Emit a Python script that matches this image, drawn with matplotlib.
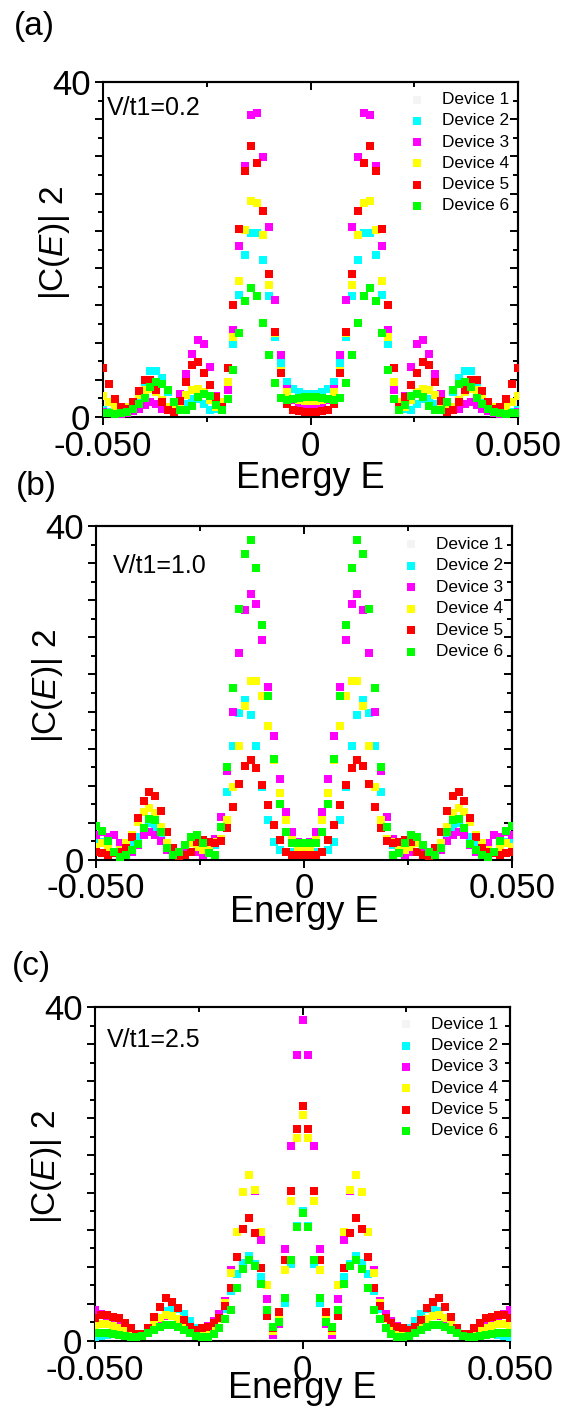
import numpy as np
import matplotlib
matplotlib.use("Agg")
import matplotlib.pyplot as plt
from matplotlib.transforms import ScaledTranslation

plt.rcParams['font.family'] = ['Liberation Sans', 'DejaVu Sans']
plt.rcParams['mathtext.fontset'] = 'custom'
plt.rcParams['mathtext.rm'] = 'Liberation Sans'
plt.rcParams['mathtext.it'] = 'Liberation Sans:italic'

# ---------------- data ----------------
energy = np.linspace(-0.05, 0.05, 71)

device_names = ["Device 1", "Device 2", "Device 3", "Device 4", "Device 5", "Device 6"]
device_colors = ["#f4f4f4", "#00ffff", "#ff00ff", "#ffff00", "#ff0000", "#00ff00"]
panel_tags = ["(a)", "(b)", "(c)"]
panel_notes = ["V/t1=0.2", "V/t1=1.0", "V/t1=2.5"]

x_major = [-0.05, 0.0, 0.05]
x_minor = [-0.025, 0.025]
x_ticklabels = ["-0.050", "0", "0.050"]
y_top = 40
y_labels_shown = {0: "0", 9: "40"}

# Device 1 is drawn in near-white and is not visible in the picture
a_dev1 = []
a_dev2 = [0.8,0.6,0.5,0.7,1.0,1.5,2.5,4.0,5.5,5.5,4.6,3.0,1.5,1.0,1.6,2.2,2.2,1.6,0.8,1.0,1.5,3.5,8.7,14.6,19.4,22.0,22.0,18.7,14.4,9.6,6.4,4.2,3.4,3.0,2.8,2.8,
          2.8,3.0,3.4,4.2,6.4,9.6,14.4,18.7,22.0,22.0,19.4,14.6,8.7,3.5,1.5,1.0,0.8,1.6,2.2,2.2,1.6,1.0,1.5,3.0,4.6,5.5,5.5,4.0,2.5,1.5,1.0,0.7,0.5,0.6,0.8]
a_dev3 = [0.6,0.5,0.4,0.4,0.5,0.7,1.0,1.4,1.8,1.5,1.0,1.2,1.8,2.8,5.1,7.5,9.2,8.7,6.0,2.5,1.5,3.2,10.4,20.4,30.0,36.1,36.3,31.0,22.7,14.0,7.4,3.4,2.0,1.4,1.2,1.2,
          1.2,1.4,2.0,3.4,7.4,14.0,22.7,31.0,36.3,36.1,30.0,20.4,10.4,3.2,1.5,2.5,6.0,8.7,9.2,7.5,5.1,2.8,1.8,1.2,1.0,1.5,1.8,1.4,1.0,0.7,0.5,0.4,0.4,0.5,0.6]
a_dev4 = [2.5,1.8,1.2,1.0,1.2,1.8,2.6,3.2,3.4,3.0,2.0,1.2,1.0,1.6,2.6,3.2,3.4,3.0,2.0,1.2,1.8,4.2,9.5,16.2,22.3,25.8,25.5,21.7,15.8,10.0,5.5,3.0,2.2,2.0,1.9,1.9,
          1.9,2.0,2.2,3.0,5.5,10.0,15.8,21.7,25.5,25.8,22.3,16.2,9.5,4.2,1.8,1.2,2.0,3.0,3.4,3.2,2.6,1.6,1.0,1.2,2.0,3.0,3.4,3.2,2.6,1.8,1.2,1.0,1.2,1.8,2.5]
a_dev5 = [5.8,4.0,2.2,1.2,1.0,1.8,3.1,4.4,4.4,3.2,1.8,0.8,0.6,1.9,4.2,6.2,6.6,5.2,3.8,2.4,1.2,5.8,13.4,22.5,29.4,32.3,30.3,24.6,17.1,10.2,5.2,1.5,0.8,0.7,0.6,0.6,
          0.6,0.7,0.8,1.5,5.2,10.2,17.1,24.6,30.3,32.3,29.4,22.5,13.4,5.8,1.2,2.4,3.8,5.2,6.6,6.2,4.2,1.9,0.6,0.8,1.8,3.2,4.4,4.4,3.1,1.8,1.0,1.2,2.2,4.0,5.8]
a_dev6 = [0.5,0.5,0.4,0.5,0.6,1.0,1.6,2.3,3.6,4.2,4.0,3.2,1.8,0.8,0.8,1.3,2.4,2.8,2.5,1.4,0.8,2.2,5.6,10.0,13.8,15.4,14.4,11.2,7.4,4.1,2.3,2.0,2.2,2.3,2.4,2.4,
          2.4,2.3,2.2,2.0,2.3,4.1,7.4,11.2,14.4,15.4,13.8,10.0,5.6,2.2,0.8,1.4,2.5,2.8,2.4,1.3,0.8,0.8,1.8,3.2,4.0,4.2,3.6,2.3,1.6,1.0,0.6,0.5,0.4,0.5,0.5]

b_dev1 = []
b_dev2 = [2.0,2.2,1.5,0.8,0.6,1.0,1.8,2.8,3.8,4.4,4.0,2.8,1.4,0.6,0.8,1.6,2.0,1.6,0.8,0.8,1.8,4.0,8.2,13.6,17.6,19.2,17.4,13.6,8.8,4.8,2.2,1.2,1.0,1.0,1.0,1.0,
          1.0,1.0,1.0,1.2,2.2,4.8,8.8,13.6,17.4,19.2,17.6,13.6,8.2,4.0,1.8,0.8,0.8,1.6,2.0,1.6,0.8,0.6,1.4,2.8,4.0,4.4,3.8,2.8,1.8,1.0,0.6,0.8,1.5,2.2,2.0]
b_dev3 = [3.0,3.4,2.8,3.0,2.0,1.2,1.0,1.8,3.0,3.4,3.0,2.3,1.2,0.8,0.8,1.6,2.0,1.0,0.6,1.2,2.5,5.2,10.7,17.7,24.8,29.9,31.9,30.6,26.4,20.7,14.8,9.7,5.8,3.4,2.2,2.0,
          2.2,3.4,5.8,9.7,14.8,20.7,26.4,30.6,31.9,29.9,24.8,17.7,10.7,5.2,2.5,1.2,0.6,1.0,2.0,1.6,0.8,0.8,1.2,2.3,3.0,3.4,3.0,1.8,1.0,1.2,2.0,3.0,2.8,3.4,3.0]
b_dev4 = [1.5,2.0,1.5,1.0,1.2,2.0,3.0,4.5,5.8,6.2,5.6,4.0,2.0,1.0,1.0,1.8,2.0,1.6,1.2,1.5,2.2,2.5,4.8,8.8,13.6,18.4,21.4,21.4,19.6,16.0,12.0,8.0,4.8,2.4,1.4,1.2,
          1.4,2.4,4.8,8.0,12.0,16.0,19.6,21.4,21.4,18.4,13.6,8.8,4.8,2.5,2.2,1.5,1.2,1.6,2.0,1.8,1.0,1.0,2.0,4.0,5.6,6.2,5.8,4.5,3.0,2.0,1.2,1.0,1.5,2.0,1.5]
b_dev5 = [1.0,0.8,0.6,0.8,1.0,1.4,2.8,5.0,7.1,8.2,7.7,5.9,3.4,1.4,0.5,0.6,1.0,2.2,2.4,2.2,2.0,2.3,3.8,6.4,9.1,11.2,12.0,11.0,9.0,6.6,4.2,2.4,1.0,0.6,0.6,0.6,
          0.6,0.6,1.0,2.4,4.2,6.6,9.0,11.0,12.0,11.2,9.1,6.4,3.8,2.3,2.0,2.2,2.4,2.2,1.0,0.6,0.5,1.4,3.4,5.9,7.7,8.2,7.1,5.0,2.8,1.4,1.0,0.8,0.6,0.8,1.0]
b_dev6 = [4.1,3.5,2.3,1.0,0.4,0.6,1.2,1.9,3.8,4.9,4.8,3.3,1.4,0.6,1.0,1.8,2.8,3.0,2.0,0.8,0.6,4.0,11.1,20.6,30.1,36.6,38.3,35.0,28.1,19.6,12.1,6.7,3.3,2.0,2.0,2.0,
          2.0,2.0,3.3,6.7,12.1,19.6,28.1,35.0,38.3,36.6,30.1,20.6,11.1,4.0,0.6,0.8,2.0,3.0,2.8,1.8,1.0,0.6,1.4,3.3,4.8,4.9,3.8,1.9,1.2,0.6,0.4,1.0,2.3,3.5,4.1]

c_dev1 = []
c_dev2 = [0.5,0.6,0.7,0.8,0.8,0.7,0.6,0.5,0.6,1.0,1.8,2.8,3.6,4.0,3.8,3.2,2.4,1.6,1.2,1.3,1.8,2.6,3.8,6.0,8.0,9.4,10.2,9.2,7.7,3.2,1.3,2.6,4.5,9.2,13.8,15.6,
          13.8,9.2,4.5,2.6,1.3,3.2,7.7,9.2,10.2,9.4,8.0,6.0,3.8,2.6,1.8,1.3,1.2,1.6,2.4,3.2,3.8,4.0,3.6,2.8,1.8,1.0,0.6,0.5,0.6,0.7,0.8,0.8,0.7,0.6,0.5]
c_dev3 = [3.7,3.2,2.8,2.4,2.0,1.5,1.0,0.6,0.6,1.0,1.8,2.6,3.0,3.0,2.6,1.9,1.4,1.2,1.4,1.8,2.4,3.2,4.8,8.5,13.1,17.8,19.9,18.0,12.1,5.0,0.7,2.0,11.0,23.4,34.3,38.5,
          34.3,23.4,11.0,2.0,0.7,5.0,12.1,18.0,19.9,17.8,13.1,8.5,4.8,3.2,2.4,1.8,1.4,1.2,1.4,1.9,2.6,3.0,3.0,2.6,1.8,1.0,0.6,0.6,1.0,1.5,2.0,2.4,2.8,3.2,3.7]
c_dev4 = [1.8,2.0,2.0,1.8,1.6,1.2,0.8,0.5,0.6,1.2,2.0,2.8,3.1,3.0,2.6,1.8,1.2,0.8,1.0,1.2,1.6,2.6,4.5,8.2,13.0,17.8,19.9,18.1,13.0,6.7,1.2,2.9,8.5,16.8,24.3,27.1,
          24.3,16.8,8.5,2.9,1.2,6.7,13.0,18.1,19.9,17.8,13.0,8.2,4.5,2.6,1.6,1.2,1.0,0.8,1.2,1.8,2.6,3.0,3.1,2.8,2.0,1.2,0.6,0.5,0.8,1.2,1.6,1.8,2.0,2.0,1.8]
c_dev5 = [2.7,3.1,3.1,2.9,2.7,2.1,1.5,0.8,0.8,1.5,2.9,4.1,5.1,4.7,3.9,2.5,1.7,1.3,1.5,1.7,2.1,2.8,4.2,6.3,10.1,13.4,14.7,12.9,8.7,3.0,1.5,3.5,9.7,18.0,25.4,28.1,
          25.4,18.0,9.7,3.5,1.5,3.0,8.7,12.9,14.7,13.4,10.1,6.3,4.2,2.8,2.1,1.7,1.5,1.3,1.7,2.5,3.9,4.7,5.1,4.1,2.9,1.5,0.8,0.8,1.5,2.1,2.7,2.9,3.1,3.1,2.7]
c_dev6 = [1.0,1.0,0.9,0.8,0.7,0.6,0.5,0.5,0.6,0.9,1.3,1.7,1.9,1.9,1.7,1.3,0.9,0.6,0.5,0.5,0.8,1.5,2.6,3.7,6.3,8.6,9.7,9.0,6.8,3.7,1.7,2.3,5.1,9.7,13.6,15.3,
          13.6,9.7,5.1,2.3,1.7,3.7,6.8,9.0,9.7,8.6,6.3,3.7,2.6,1.5,0.8,0.5,0.5,0.6,0.9,1.3,1.7,1.9,1.9,1.7,1.3,0.9,0.6,0.5,0.5,0.6,0.7,0.8,0.9,1.0,1.0]

panels_data = [
    [a_dev1, a_dev2, a_dev3, a_dev4, a_dev5, a_dev6],
    [b_dev1, b_dev2, b_dev3, b_dev4, b_dev5, b_dev6],
    [c_dev1, c_dev2, c_dev3, c_dev4, c_dev5, c_dev6],
]

# ---------------- layout (pixels in a 572x1406 canvas) ----------------
W, H = 572, 1406
DPI = 100
axes_px = [(103, 82, 518, 417), (96, 526, 512, 860), (95, 1007, 510, 1341)]
tag_px = [(14, 26), (16, 487), (12, 966)]
note_px = [(4, 26), (17, 40), (12, 33)]
legend_px = [(-101, -76, -17.5, 21.3), (-101, -76, -18.3, 21.5), (-104, -79, -17.3, 21.3)]
xlabel_center_px = [479, 913, 1388]

fig = plt.figure(figsize=(W / DPI, H / DPI), dpi=DPI)

MS = 6.1
LW = 1.5

for p in range(3):
    x0, y0, x1, y1 = axes_px[p]
    ax = fig.add_axes([x0 / W, 1 - y1 / H, (x1 - x0) / W, (y1 - y0) / H])
    for k in range(6):
        vals = panels_data[p][k]
        if len(vals):
            ax.plot(energy, vals, linestyle='none', marker='s', ms=MS, mew=0,
                    color=device_colors[k], zorder=2 + k)
    ax.set_xlim(-0.05, 0.05)
    ax.set_ylim(0, y_top)

    ymaj = np.linspace(0, y_top, 10)
    ymin = ymaj[:-1] + y_top / 18
    ax.set_xticks(x_major)
    ax.set_xticks(x_minor, minor=True)
    ax.set_xticklabels(x_ticklabels)
    ax.set_yticks(ymaj)
    ax.set_yticks(ymin, minor=True)
    ax.set_yticklabels([y_labels_shown.get(i, "") for i in range(10)])
    ax.tick_params(which='major', direction='out', length=6, width=1.4,
                   labelsize=25, pad=3)
    ax.tick_params(which='minor', direction='out', length=3.5, width=1.4)
    for s in ax.spines.values():
        s.set_linewidth(LW)

    secx = ax.secondary_xaxis('top')
    secx.set_xticks(x_major)
    secx.set_xticks(x_minor, minor=True)
    secx.tick_params(which='major', direction='in', length=6, width=1.4, labeltop=False)
    secx.tick_params(which='minor', direction='in', length=3.5, width=1.4)
    secx.spines['top'].set_linewidth(LW)
    secy = ax.secondary_yaxis('right')
    secy.set_yticks(ymaj)
    secy.set_yticks(ymin, minor=True)
    secy.tick_params(which='major', direction='in', length=6, width=1.4, labelright=False)
    secy.tick_params(which='minor', direction='in', length=3.5, width=1.4)
    secy.spines['right'].set_linewidth(LW)

    ax.set_xlabel("Energy E", fontsize=26)
    ax.xaxis.label.set_va('center')
    ax.xaxis.set_label_coords(0.5, (y1 - xlabel_center_px[p]) / (y1 - y0))
    ax.set_ylabel(r"|C($\mathit{E}$)| 2", fontsize=24)
    ax.yaxis.set_label_coords(-0.075, 0.52)

    # panel tag
    tx, ty = tag_px[p]
    fig.text(tx / W, 1 - ty / H, panel_tags[p], fontsize=24, ha='left', va='center')

    # V/t1 note
    nx, ny = note_px[p]
    tr = ax.transAxes + ScaledTranslation(nx / DPI, -ny / DPI, fig.dpi_scale_trans)
    ax.text(0, 1, panel_notes[p], transform=tr, fontsize=18, ha='left', va='center')

    # legend (manual, markers + labels)
    mdx, tdx, ry, pitch = legend_px[p]
    for k in range(6):
        trm = ax.transAxes + ScaledTranslation(mdx / DPI, (ry - pitch * k) / DPI, fig.dpi_scale_trans)
        ax.plot([1], [1], transform=trm, marker='s', ms=6.4, mew=0,
                color=device_colors[k], clip_on=False, linestyle='none')
        trt = ax.transAxes + ScaledTranslation(tdx / DPI, (ry - pitch * k) / DPI, fig.dpi_scale_trans)
        ax.text(1, 1, device_names[k], transform=trt, fontsize=12.4,
                ha='left', va='center')

fig.savefig("out.png", dpi=DPI)
